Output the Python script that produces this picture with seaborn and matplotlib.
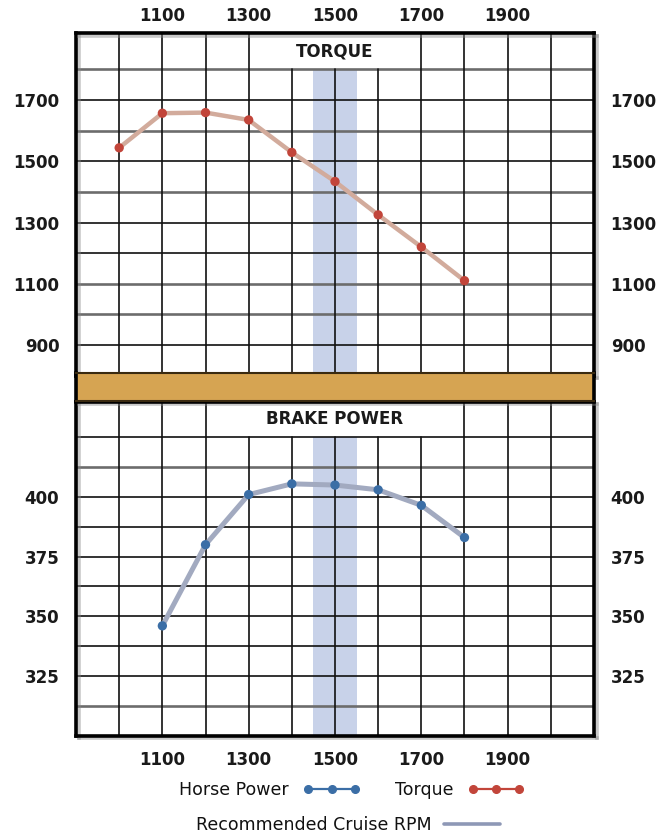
import numpy as np
import pandas as pd
import matplotlib
matplotlib.use("Agg")
import matplotlib.pyplot as plt
import matplotlib.patheffects as pe
from matplotlib.lines import Line2D
import seaborn as sns

# ---------------- data ----------------
torque_rpm = [1000, 1100, 1200, 1300, 1400, 1500, 1600, 1700, 1800]
torque_val = [1544, 1657, 1659, 1635, 1529, 1434, 1325, 1220, 1110]

hp_rpm = [1100, 1200, 1300, 1400, 1500, 1600, 1700, 1800]
hp_val = [346, 380, 401, 405.5, 405, 403, 396.5, 383]

cruise_rpm = [1450, 1550]

x_ticks = [1100, 1300, 1500, 1700, 1900]
torque_ticks = [900, 1100, 1300, 1500, 1700]
hp_ticks = [325, 350, 375, 400]

top_title = "TORQUE"
bottom_title = "BRAKE POWER"
legend_labels = ["Horse Power", "Torque", "Recommended Cruise RPM"]

# ---------------- style ----------------
sns.set_style("white")
plt.rcParams["font.family"] = ["DejaVu Sans"]

TORQ_LINE = "#d2ab9c"
TORQ_DOT = "#c2453a"
HP_LINE = "#a2aac0"
HP_DOT = "#3b6ea6"
BAND = "#c8d2e9"
GOLD = "#d6a452"

fig = plt.figure(figsize=(6.68, 8.33), dpi=100)
L, W = 0.1138, 0.7754
ax_t = fig.add_axes([L, 0.5491, W, 0.4113])
ax_g = fig.add_axes([L, 0.5186, W, 0.0336])
ax_b = fig.add_axes([L, 0.1169, W, 0.4011])

shadow = [pe.SimpleLineShadow(offset=(2.0, -2.0), shadow_color="#888888", alpha=0.45), pe.Normal()]


def grid_panel(ax, xlim, ylim, hsteps, gray_levels, cut_range, cut_top):
    ax.set_xlim(*xlim)
    ax.set_ylim(*ylim)
    for y in hsteps:
        if any(abs(y - g) < 1e-6 for g in gray_levels):
            ax.axhline(y, color="#6c6c6c", lw=1.9, zorder=1)
        else:
            ax.axhline(y, color="#111111", lw=1.2, zorder=1)
    for x in np.arange(xlim[0] + 100, xlim[1], 100):
        if cut_range[0] <= x <= cut_range[1]:
            top = (cut_top - ylim[0]) / (ylim[1] - ylim[0])
        else:
            top = 1.0
        ax.axvline(x, ymin=0, ymax=top, color="#111111", lw=1.2, zorder=1)
    for s in ax.spines.values():
        s.set_visible(True)
        s.set_color("black")
        s.set_linewidth(2.6)
        s.set_path_effects(shadow)
        s.set_zorder(6)
    ax.set_xlabel("")
    ax.set_ylabel("")


# ---- top panel: torque ----
grid_panel(ax_t, (900, 2100), (800, 1919), np.arange(900, 1801, 100),
           [1800, 1600, 1400, 1100, 1000], (1400, 1600), 1800)
ax_t.axvspan(cruise_rpm[0], cruise_rpm[1], ymin=0, ymax=(1800 - 800) / (1919 - 800),
             color=BAND, lw=0, zorder=0.5)
df_t = pd.DataFrame({"rpm": torque_rpm, "val": torque_val})
sns.lineplot(data=df_t, x="rpm", y="val", ax=ax_t, color=TORQ_LINE, lw=3.2,
             solid_capstyle="round", solid_joinstyle="round", zorder=3)
sns.scatterplot(data=df_t, x="rpm", y="val", ax=ax_t, color=TORQ_DOT, s=45,
                edgecolor="none", zorder=4)
ax_t.text(1500, 1859, top_title, ha="center", va="center", fontsize=12,
          fontweight="bold", color="#1a1a1a", zorder=5)
ax_t.set_xticks(x_ticks)
ax_t.set_yticks(torque_ticks)
ax_t.xaxis.set_ticks_position("top")
ax_t.tick_params(axis="x", which="both", length=0, labeltop=True, labelbottom=False,
                 labelsize=12, pad=6)
ax_t.tick_params(axis="y", which="both", length=0, left=False, right=False,
                 labelleft=True, labelright=True, labelsize=12, pad=12)
ax_t.set_xlabel("")
ax_t.set_ylabel("")

# ---- gold separator ----
ax_g.set_facecolor(GOLD)
ax_g.set_xticks([])
ax_g.set_yticks([])
for s in ax_g.spines.values():
    s.set_color("#3a2a10")
    s.set_linewidth(1.5)
ax_g.spines["left"].set_linewidth(2.6)
ax_g.spines["left"].set_color("black")
ax_g.spines["right"].set_linewidth(2.6)
ax_g.spines["right"].set_color("black")
ax_g.set_zorder(10)

# ---- bottom panel: brake power ----
grid_panel(ax_b, (900, 2100), (300, 440), np.arange(312.5, 425.1, 12.5),
           [412.5, 312.5], (1300, 1700), 425)
ax_b.axvspan(cruise_rpm[0], cruise_rpm[1], ymin=0, ymax=(425 - 300) / (440 - 300),
             color=BAND, lw=0, zorder=0.5)
df_b = pd.DataFrame({"rpm": hp_rpm, "val": hp_val})
sns.lineplot(data=df_b, x="rpm", y="val", ax=ax_b, color=HP_LINE, lw=3.6,
             solid_capstyle="round", solid_joinstyle="round", zorder=3)
sns.scatterplot(data=df_b, x="rpm", y="val", ax=ax_b, color=HP_DOT, s=45,
                edgecolor="none", zorder=4)
ax_b.text(1500, 432.5, bottom_title, ha="center", va="center", fontsize=12,
          fontweight="bold", color="#1a1a1a", zorder=5)
ax_b.set_xticks(x_ticks)
ax_b.set_yticks(hp_ticks)
ax_b.tick_params(axis="x", which="both", length=0, labelsize=12, pad=11)
ax_b.tick_params(axis="y", which="both", length=0, left=False, right=False,
                 labelleft=True, labelright=True, labelsize=12, pad=12)
ax_b.set_xlabel("")
ax_b.set_ylabel("")

for ax in (ax_t, ax_b):
    for lab in ax.get_xticklabels() + ax.get_yticklabels():
        lab.set_fontweight("bold")
        lab.set_color("#1a1a1a")

# ---- legends ----
h_hp = Line2D([], [], color=HP_DOT, lw=1.6, marker="o", ms=5.5)
h_tq = Line2D([], [], color=TORQ_DOT, lw=1.6, marker="o", ms=5.5)
h_cr = Line2D([], [], color="#8e98b6", lw=2.6)
leg1 = fig.legend([h_hp, h_tq], legend_labels[:2], loc="center", bbox_to_anchor=(0.527, 0.0516),
                  ncol=2, frameon=False, markerfirst=False, numpoints=3, handlelength=3.3,
                  handletextpad=0.8, columnspacing=2.0, fontsize=12.5, labelcolor="#111111")
leg2 = fig.legend([h_cr], legend_labels[2:], loc="center", bbox_to_anchor=(0.521, 0.0095),
                  frameon=False, markerfirst=False, handlelength=3.2, handletextpad=0.7,
                  fontsize=12.5, borderpad=0, labelcolor="#111111")

fig.savefig("out.png", dpi=100)
